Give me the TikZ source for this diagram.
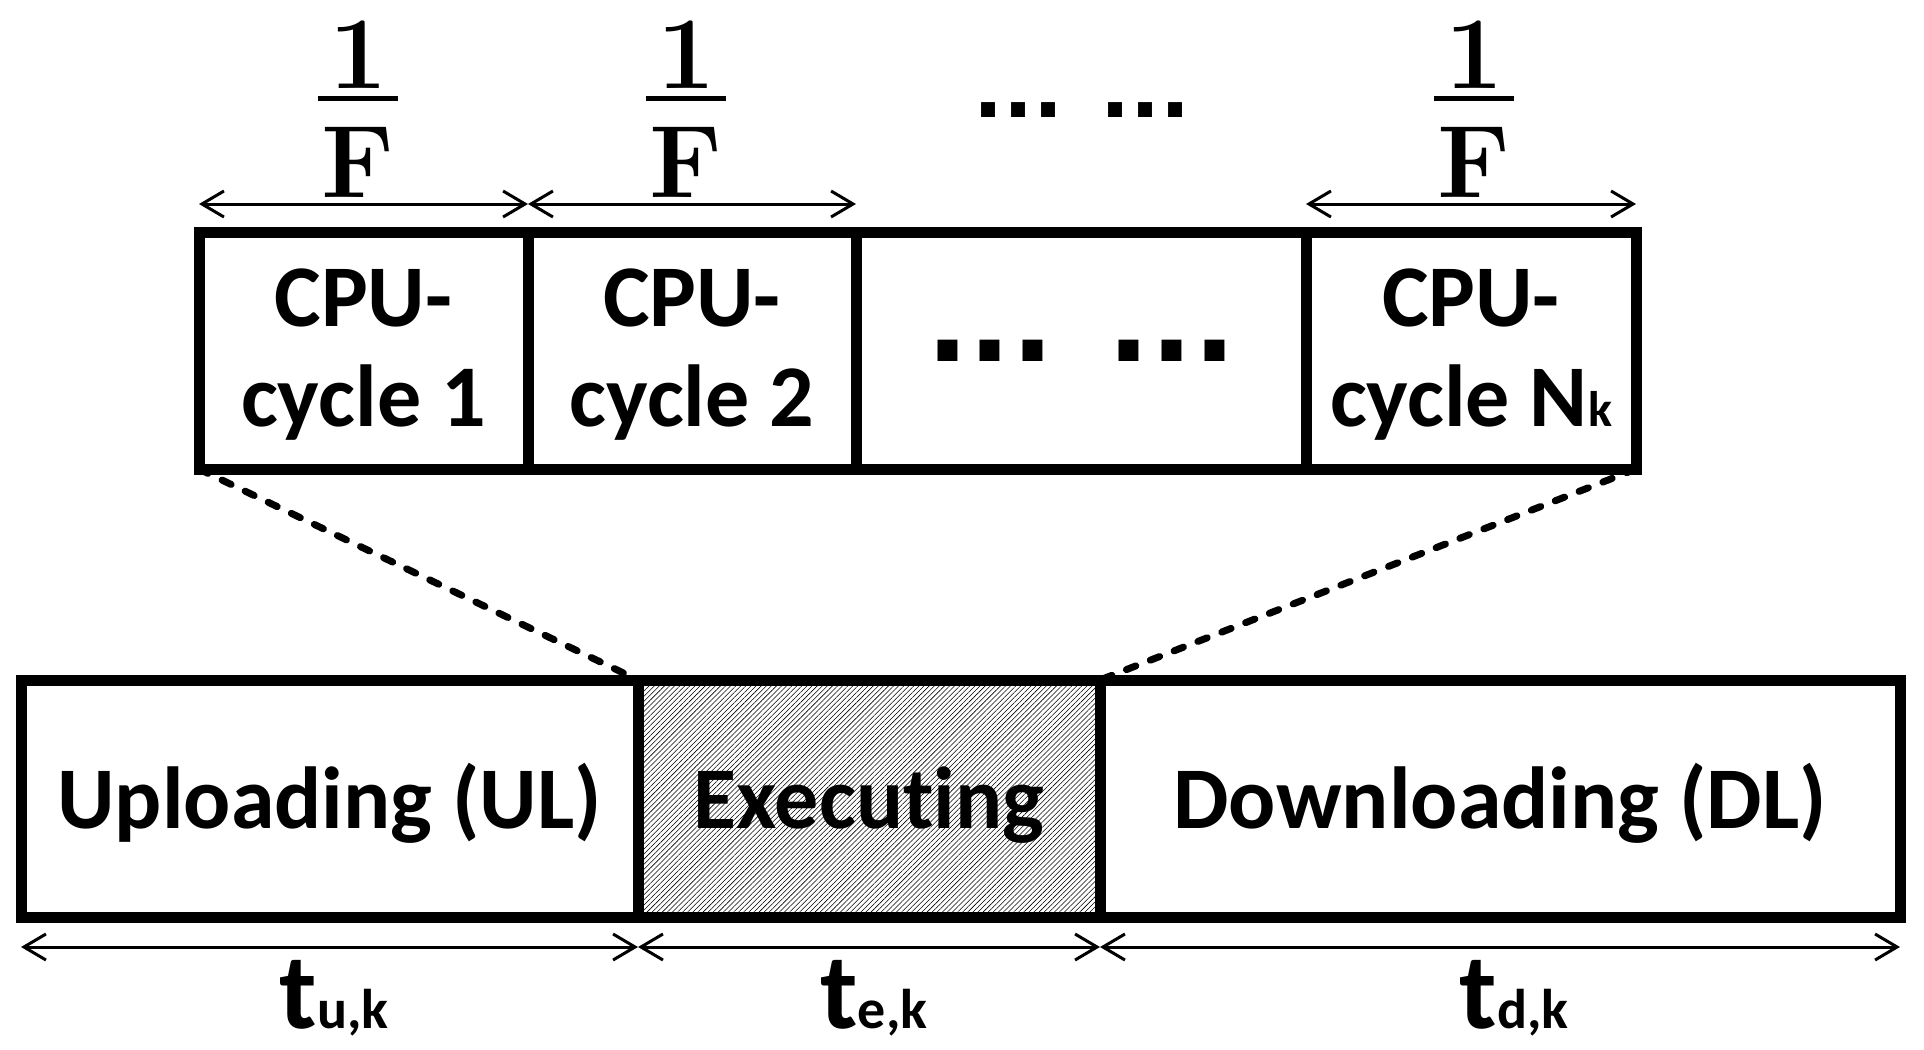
\documentclass[tikz,border=0pt]{standalone}
\usepackage{fontspec}
\newfontfamily\carl{Carlito}[Ligatures={NoCommon,NoContextual}]
\newfontfamily\dvs{DejaVu Sans}
\usetikzlibrary{arrows.meta,patterns.meta,calc}
\begin{document}
\begin{tikzpicture}[x=0.5pt,y=-0.5pt,
  cell/.style={draw, line width=5.5pt, rectangle, inner sep=0pt, outer sep=0pt, minimum height=118.5pt},
  celltext/.style={font=\carl\bfseries\fontsize{44pt}{50pt}\selectfont, align=center},
  bigtext/.style={font=\carl\bfseries\fontsize{44pt}{50pt}\selectfont, text height=40.5pt, text depth=11pt},
  dim/.style={line width=1.5pt, {Straight Barb[length=11pt,width=13pt]}-{Straight Barb[length=11pt,width=13pt]}},
  zoomline/.style={line width=3.5pt, dash pattern=on 5pt off 7.8pt, line cap=round},
  rmnum/.style={font=\rmfamily\bfseries\fontsize{51.5pt}{52pt}\selectfont, inner sep=0pt, anchor=base},
  fracbar/.style={line width=2.5pt},
  tlab/.style={font=\carl\bfseries\fontsize{54pt}{54pt}\selectfont, inner sep=1pt, anchor=base},
  hatch/.style={pattern={Lines[angle=45,distance=1.8pt,line width=0.28pt]}},
]
\useasboundingbox (0,0) rectangle (1924,1050);

% top row: CPU cycles
\node[cell, celltext, minimum width=164.5pt] (c1) at (363.5,350.5) {\rule{0pt}{33pt}CPU-\\cycle 1};
\node[cell, celltext, minimum width=164pt] (c2) at (692,350.5) {\rule{0pt}{33pt}CPU-\\cycle 2};
\node[cell, minimum width=225pt, font=\dvs\bfseries\fontsize{56.5pt}{60pt}\selectfont] (c3) at (1081,350.5) {... ...};
\node[cell, celltext, minimum width=165pt] (cN) at (1471,350.5) {\rule{0pt}{33pt}CPU-\\cycle N{\fontsize{25pt}{25pt}\selectfont k}};

% bottom row: phases
\node[cell, bigtext, minimum width=308.5pt] (ul) at (329.5,798.5) {Uploading (UL)};
\node[cell, bigtext, hatch, minimum width=231pt] (ex) at (869,798.5) {Execut\kern0pt ing};
\node[cell, bigtext, minimum width=400pt] (dl) at (1500,798.5) {Downloading (DL)};

% fractions 1/F
\node[rmnum] (n1) at (358,88) {1};
\node[rmnum] (d1) at (358,197) {F};
\draw[fracbar] ($(n1.base)+(-40,10)$) -- ++(80,0);
\node[rmnum] (n2) at (686,88) {1};
\node[rmnum] (d2) at (686,197) {F};
\draw[fracbar] ($(n2.base)+(-40,10)$) -- ++(80,0);
\node[rmnum] (n3) at (1474,88) {1};
\node[rmnum] (d3) at (1474,197) {F};
\draw[fracbar] ($(n3.base)+(-40,10)$) -- ++(80,0);

\node[font=\dvs\bfseries\fontsize{39.5pt}{40pt}\selectfont, inner sep=0pt, anchor=base] (topdots) at (1082,117) {... ...};

% top dimension arrows
\draw[dim] ([yshift=14pt]c1.north west) -- ([yshift=14pt]c1.north east);
\draw[dim] ([yshift=14pt]c2.north west) -- ([yshift=14pt]c2.north east);
\draw[dim] ([yshift=14pt]cN.north west) -- ([yshift=14pt]cN.north east);

% zoom lines
\draw[zoomline] (c1.south west) -- (ex.north west);
\draw[zoomline] (cN.south east) -- (ex.north east);

% bottom dimension arrows
\draw[dim] ([yshift=-15pt]ul.south west) -- ([yshift=-15pt]ul.south east);
\draw[dim] ([yshift=-15pt]ex.south west) -- ([yshift=-15pt]ex.south east);
\draw[dim] ([yshift=-15pt]dl.south west) -- ([yshift=-15pt]dl.south east);

% time labels
\node[tlab] (tu) at (334,1028) {t{\fontsize{28pt}{28pt}\selectfont u,k}};
\node[tlab] (te) at (874,1028) {t{\fontsize{28pt}{28pt}\selectfont e,k}};
\node[tlab] (td) at (1514,1028) {t{\fontsize{28pt}{28pt}\selectfont d,k}};
\end{tikzpicture}
\end{document}
